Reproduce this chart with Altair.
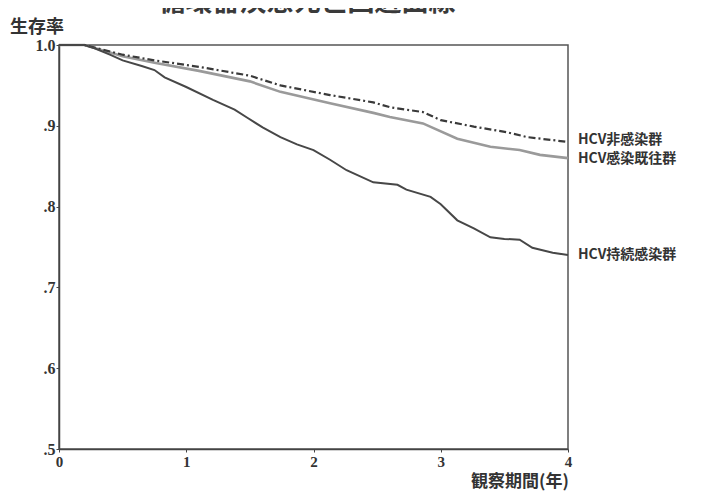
import altair as alt
import pandas as pd

# ---- data ----
t_persist = [0, 0.2, 0.28, 0.4, 0.5, 0.65, 0.75, 0.83, 1.0, 1.21, 1.38, 1.48, 1.6, 1.74, 1.87,
             2.0, 2.13, 2.26, 2.47, 2.66, 2.73, 2.92, 3.0, 3.13, 3.26, 3.39, 3.5, 3.62, 3.72, 3.88, 4.0]
v_persist = [1.0, 1.0, 0.996, 0.988, 0.981, 0.974, 0.969, 0.960, 0.948, 0.932, 0.920, 0.910, 0.898, 0.886, 0.877,
             0.870, 0.858, 0.845, 0.830, 0.827, 0.821, 0.812, 0.803, 0.783, 0.773, 0.762, 0.760, 0.759, 0.749, 0.743, 0.740]

t_none = [0, 0.2, 0.5, 0.75, 1.1, 1.5, 1.74, 2.13, 2.47, 2.6, 2.86, 3.0, 3.26, 3.52, 3.68, 4.0]
v_none = [1.0, 1.0, 0.988, 0.981, 0.973, 0.962, 0.950, 0.938, 0.929, 0.923, 0.917, 0.907, 0.899, 0.892, 0.886, 0.880]

t_past = [0, 0.2, 0.5, 0.75, 1.1, 1.5, 1.74, 2.13, 2.47, 2.6, 2.86, 3.13, 3.39, 3.62, 3.78, 4.0]
v_past = [1.0, 1.0, 0.986, 0.978, 0.968, 0.955, 0.942, 0.928, 0.916, 0.911, 0.903, 0.884, 0.874, 0.870, 0.864, 0.860]

groups = ["HCV非感染群", "HCV感染既往群", "HCV持続感染群"]
end_values = [v_none[-1], v_past[-1], v_persist[-1]]

title_text = "循環器疾患死亡回避曲線"
y_title = "生存率"
x_title = "観察期間(年)"
x_ticks = [0, 1, 2, 3, 4]
y_ticks = [0.5, 0.6, 0.7, 0.8, 0.9, 1.0]

df_none = pd.DataFrame({"t": t_none, "v": v_none})
df_past = pd.DataFrame({"t": t_past, "v": v_past})
df_persist = pd.DataFrame({"t": t_persist, "v": v_persist})
df_labels = pd.DataFrame({"label": groups, "t": [4] * 3, "v": end_values})

serif = "Liberation Serif"
cjk = "Noto Sans CJK JP"
dark = "#333333"

xs = alt.Scale(domain=[0, 4], nice=False, zero=False)
ys = alt.Scale(domain=[0.5, 1.0], nice=False, zero=False)

x_enc = alt.X("t:Q", scale=xs, axis=alt.Axis(
    values=x_ticks, title=None, grid=False, labelFont=serif, labelFontWeight="bold",
    labelFontSize=15, labelColor=dark, labelPadding=2, tickSize=3, tickColor="#444",
    domainColor="#444", domainWidth=1.5, labelFlush=False, format="d"))
y_enc = alt.Y("v:Q", scale=ys, axis=alt.Axis(
    values=y_ticks, title=None, grid=False, labelFont=serif, labelFontWeight="bold",
    labelFontSize=16, labelColor=dark, labelPadding=1, tickSize=3, tickColor="#444",
    domainColor="#444", domainWidth=1.5, labelFlush=False,
    labelExpr="datum.value >= 1 ? '1.0' : replace(format(datum.value, '.1f'), '0.', '.')"))

line_none = alt.Chart(df_none).mark_line(
    color="#3a3a3a", strokeWidth=2.2, strokeDash=[7, 3, 2, 3]).encode(x=x_enc, y=y_enc)
line_past = alt.Chart(df_past).mark_line(
    color="#9a9a9a", strokeWidth=2.6).encode(x="t:Q", y="v:Q")
line_persist = alt.Chart(df_persist).mark_line(
    color="#474747", strokeWidth=2).encode(x="t:Q", y="v:Q")

label_style = dict(align="left", baseline="middle", dx=10, font=cjk, fontWeight="bold",
                   fontSize=14, color=dark)
lab_none = alt.Chart(df_labels.iloc[[0]]).mark_text(dy=-2, **label_style).encode(
    x="t:Q", y="v:Q", text="label:N")
lab_past = alt.Chart(df_labels.iloc[[1]]).mark_text(dy=1, **label_style).encode(
    x="t:Q", y="v:Q", text="label:N")
lab_persist = alt.Chart(df_labels.iloc[[2]]).mark_text(dy=0, **label_style).encode(
    x="t:Q", y="v:Q", text="label:N")

title = alt.Chart(pd.DataFrame({"s": [title_text]})).mark_text(
    align="center", baseline="bottom", font=cjk, fontWeight="bold", fontSize=27,
    color="#3a3a3a").encode(x=alt.value(248), y=alt.value(-28), text="s:N")
ytitle = alt.Chart(pd.DataFrame({"s": [y_title]})).mark_text(
    align="left", baseline="middle", font=cjk, fontWeight="bold", fontSize=18,
    color=dark).encode(x=alt.value(-49), y=alt.value(-17), text="s:N")
xtitle = alt.Chart(pd.DataFrame({"s": [x_title]})).mark_text(
    align="left", baseline="middle", font=cjk, fontWeight="bold", fontSize=17,
    color=dark).encode(x=alt.value(412), y=alt.value(437), text="s:N")

chart = alt.layer(line_past, line_none, line_persist, lab_none, lab_past, lab_persist,
                  title, ytitle, xtitle).properties(
    width=509, height=404,
    autosize=alt.AutoSizeParams(type="none"),
    padding={"left": 51, "top": 37, "right": 139, "bottom": 42},
    background="white",
).configure_view(stroke="#555555", strokeWidth=1.5)

chart.save("out.html", embed_options={"renderer": "svg", "actions": False})
